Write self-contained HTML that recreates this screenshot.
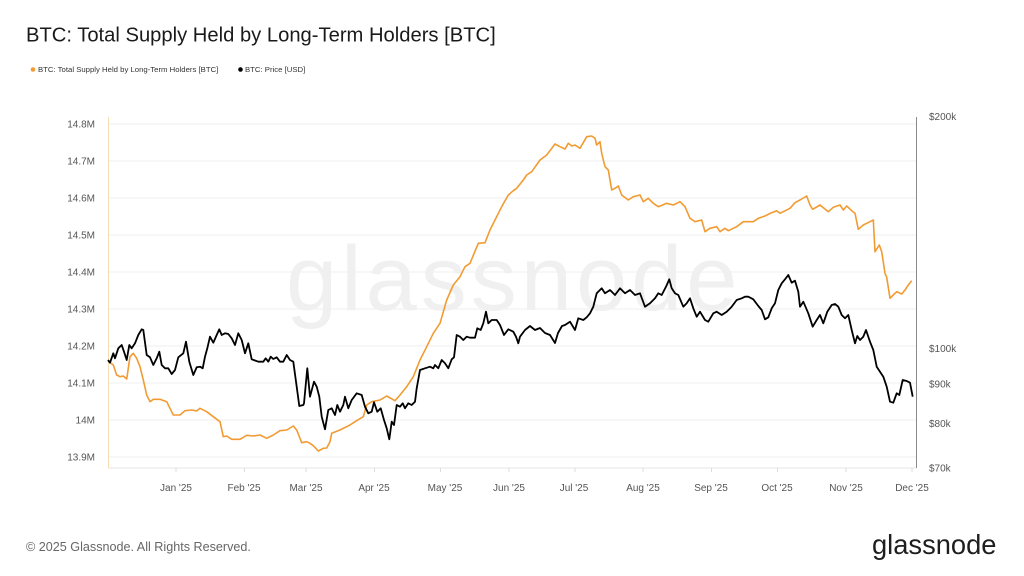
<!DOCTYPE html>
<html><head><meta charset="utf-8"><style>
html,body{margin:0;padding:0;background:#fff;}
body{width:1024px;height:576px;overflow:hidden;}
svg{display:block;font-family:"Liberation Sans",Arial,sans-serif;}
</style></head><body>
<svg width="1024" height="576" viewBox="0 0 1024 576" xmlns="http://www.w3.org/2000/svg">
<rect width="1024" height="576" fill="#fff"/>
<text x="26" y="41.5" font-size="20.2" fill="#1a1a1a">BTC: Total Supply Held by Long-Term Holders [BTC]</text>
<circle cx="33" cy="69.5" r="2.3" fill="#f29b32"/>
<text x="38" y="72.2" font-size="7.75" fill="#333">BTC: Total Supply Held by Long-Term Holders [BTC]</text>
<circle cx="240.5" cy="69.5" r="2.3" fill="#000"/>
<text x="245" y="72.2" font-size="7.75" fill="#333">BTC: Price [USD]</text>

<text x="286" y="310" font-size="92" fill="#f0f0f0" letter-spacing="4">glassnode</text>

<g stroke="#efefef" stroke-width="1">
<line x1="108" x2="916" y1="124" y2="124"/>
<line x1="108" x2="916" y1="161" y2="161"/>
<line x1="108" x2="916" y1="198" y2="198"/>
<line x1="108" x2="916" y1="235" y2="235"/>
<line x1="108" x2="916" y1="272" y2="272"/>
<line x1="108" x2="916" y1="309" y2="309"/>
<line x1="108" x2="916" y1="346" y2="346"/>
<line x1="108" x2="916" y1="383" y2="383"/>
<line x1="108" x2="916" y1="420" y2="420"/>
<line x1="108" x2="916" y1="457" y2="457"/>
</g>
<line x1="108" x2="916" y1="468" y2="468" stroke="#e6e6e6" stroke-width="1"/>
<line x1="108.5" x2="108.5" y1="117" y2="468" stroke="#f6dcb0" stroke-width="1"/>
<line x1="916.5" x2="916.5" y1="117" y2="468" stroke="#8a8a8a" stroke-width="1"/>
<g stroke="#ddd" stroke-width="1">
<line x1="176" x2="176" y1="468" y2="472"/><line x1="244.5" x2="244.5" y1="468" y2="472"/>
<line x1="306" x2="306" y1="468" y2="472"/><line x1="374.5" x2="374.5" y1="468" y2="472"/>
<line x1="440.5" x2="440.5" y1="468" y2="472"/><line x1="509" x2="509" y1="468" y2="472"/>
<line x1="575" x2="575" y1="468" y2="472"/><line x1="643" x2="643" y1="468" y2="472"/>
<line x1="711.5" x2="711.5" y1="468" y2="472"/><line x1="777.5" x2="777.5" y1="468" y2="472"/>
<line x1="846" x2="846" y1="468" y2="472"/><line x1="912" x2="912" y1="468" y2="472"/>
</g>

<g font-size="10" fill="#555" text-anchor="end">
<text x="95" y="127.5">14.8M</text>
<text x="95" y="164.5">14.7M</text>
<text x="95" y="201.5">14.6M</text>
<text x="95" y="238.5">14.5M</text>
<text x="95" y="275.5">14.4M</text>
<text x="95" y="312.5">14.3M</text>
<text x="95" y="349.5">14.2M</text>
<text x="95" y="386.5">14.1M</text>
<text x="95" y="423.5">14M</text>
<text x="95" y="460.5">13.9M</text>
</g>
<g font-size="10" fill="#555">
<text x="929" y="120">$200k</text>
<text x="929" y="352">$100k</text>
<text x="929" y="387.5">$90k</text>
<text x="929" y="427">$80k</text>
<text x="929" y="471.5">$70k</text>
</g>
<g font-size="10" fill="#555" text-anchor="middle">
<text x="176" y="491">Jan '25</text>
<text x="244" y="491">Feb '25</text>
<text x="306" y="491">Mar '25</text>
<text x="374" y="491">Apr '25</text>
<text x="445" y="491">May '25</text>
<text x="509" y="491">Jun '25</text>
<text x="574" y="491">Jul '25</text>
<text x="643" y="491">Aug '25</text>
<text x="711" y="491">Sep '25</text>
<text x="777" y="491">Oct '25</text>
<text x="846" y="491">Nov '25</text>
<text x="912" y="491">Dec '25</text>
</g>

<polyline fill="none" stroke="#f29b32" stroke-width="1.6" stroke-linejoin="round" points="108,361 113.3,365 116.7,375 120,376.7 123.3,376 126.7,379 130,356.7 133.3,353.3 136.7,358.3 140,366.7 143.3,380 146.7,395 150,401.7 153.3,399.3 160,399.3 166.7,401.7 170,408.3 173.3,415 180,415 185,410.7 191.7,410 196.7,411 200,408.3 206.7,411.7 213.3,416.7 220,421.7 223.3,436.7 226.7,436 231.7,439.3 240,439.3 246.7,435.3 253.3,436 260,435 266.7,438.3 273.3,435 280,430.7 286.7,430 293.3,426 296.7,430 301.7,442.7 306.7,441.7 310,443.3 313.3,445.7 318.3,451 323.3,448.3 326.7,448 330,441.7 331.7,433.3 340,430 350,425 355,421.7 363.3,416.7 366.7,405 371.7,401.7 380,400 386.7,396 395,400.7 400,395 406.7,386.7 413.3,376.7 420,360 426.7,346.7 433.3,333.3 440,323.3 446.7,300 453.3,285 460,276.7 465,266.7 470,263.3 478.3,243.3 485,242.7 490,230 495,220 501.7,206.7 508.3,195 513.3,190.7 516.7,188.3 523.3,180 526.7,175 531.7,171.7 540,160 546.7,155 555,144 560,146.7 565,149 568.3,143.3 571.7,146 575,145 580,148.3 586.7,136.7 591.7,136 595,138.3 596.7,145 600,141.7 601.7,153.3 605,166.7 608.3,170 611.7,190 615,188.3 618.3,186 621.7,195 628.3,200 633.3,196.7 640,195 643.3,201.7 648.3,198.3 653.3,203.3 658.3,206.7 666.7,203.3 673.3,205 680,201.7 685,206.7 690,218.3 695,221.7 701.7,220 705,231.7 710,228.3 716.7,226.7 720,231.7 725,228.3 728.3,230.7 736.7,226.7 743.3,221.7 753.3,221.7 758.3,218.3 765,216 771.7,212.7 776.7,210.7 780,213.3 790,208.3 795,202.7 800,200 806.7,196 810,205 812.7,209.3 820,205 828.3,211.7 833.3,207.3 840,205 843.3,210 846.7,206 851.7,210.7 855,213.3 858.3,229.3 863.3,225 870,221.7 873.3,220 875,251.7 879.3,245 881.7,251.7 885,273.3 886.7,277.3 890,298.3 893.3,295 896.7,291.7 901.7,294 905,290 908.3,285 911.7,280.7"/>

<polyline fill="none" stroke="#000" stroke-width="1.8" stroke-linejoin="round" points="108,360 110,362.7 113.3,353.3 115,358.3 118.3,348.3 121.7,345 124,351.7 126.7,360 129.3,345 131.7,348.3 135,343.3 138.3,335 141.7,329.3 143.3,330 146.7,355 150,357.3 153.3,365 156.7,358.3 159.3,351.7 161.7,365 165,368.3 168.3,368.3 171.7,374 175,370 178.3,357.3 183.3,353.3 186,341.7 189.3,361.7 193.3,375 196.7,367.3 200,366.7 202.7,368.3 205,356.7 207.3,348.3 210,336.7 213.3,342.7 216.7,335 219.3,329.3 221.7,335 225,333.3 228.3,334 231.7,338.3 235,345 238.3,333.3 241.7,340 245,353.3 248.3,343.3 251.7,359.3 258.3,361.7 263.3,361.7 265.7,358.3 268.3,361.7 270.7,356.7 273.3,359 276.7,357.3 280,361.7 283.3,361.7 286.7,355 290,360 293.3,361.7 296.7,386.7 299.3,406 303.3,405 304,403.3 307.3,368.3 310,396.7 314,381.7 316.7,386.7 319.3,396.7 321.7,416.7 325,429.3 328.3,410 331.7,408.3 335,415 337.3,405 340,411.7 343.3,405 345,396.7 348.3,408.3 351.7,400 356.7,393.3 361.7,395 365,406.7 368.3,413.3 371.7,411.7 374,402.3 377.3,411.7 380.7,408.3 384,420 386.7,428.3 389.3,439.3 391.7,421.7 394,425 396.7,405 400,406.7 402.7,403.3 405,408.3 408.3,403.3 411.7,405 415,401.7 416.7,388.3 420,370 425,368.3 430,366.7 433.3,368.3 435,365 438.3,368.3 441.7,360 445,363.3 448.3,368.3 451.7,359.3 454,357.3 456.7,335 460,336.7 463.3,340 466.7,336.7 470,337.7 475,337.7 477.3,328.3 480.7,330 483.3,323.3 486,311.7 488.3,323.3 491.7,320 496.7,320 500,325 504,335 508.3,329.3 513.3,331.7 516,336.7 518.3,343.3 520,336.7 525,330 530,326 535,330 540,328 545,333 550,335 555,343 558,333 562,326 565,325 570,321.7 575,330 578.3,318.3 583.3,320 586.7,317.3 590,313.3 593.3,306.7 596.7,293.3 601.7,288.3 605,293.3 610,290 615,295 620,288.3 625,293.3 630,290 635,295 640,293.3 645,306.7 650,303.3 655,298.3 658.3,293.3 661.7,295 666,286.7 669.3,279.3 671.7,288.3 675,293.3 678.3,295 683.3,306.7 686.7,303.3 690,298.3 693.3,308.3 696.7,316.7 700,311.7 705,320 708.3,321.7 713.3,313.3 716.7,311.7 721.7,315 726.7,311.7 731.7,306.7 736.7,300 741.7,298.3 745,296.7 748.3,296.7 753.3,299.3 758.3,306 761.7,310 765,319.3 768.3,317.3 771.7,308.3 775,303.3 778.3,290 781.7,283.3 785,279.3 788.3,275 791.7,282.7 795,280.7 798.3,291.7 800,306.7 803.3,301.7 808.3,313.3 812.7,326.7 816.7,320 820,315 823.3,323.3 827.3,311.7 831.7,305 835,304 838.3,306.7 841.7,315 845,318.3 848.3,315 851.7,330 855,343.3 857.3,336 860,340 863.3,336.7 866,330 870,341.7 873.3,350 876.7,366.7 880,371.7 883.3,376.7 886.7,386.7 890,401.7 893.3,402.7 896.7,393.3 899.3,395 902.7,380 906.7,381 910,382.7 912.7,396.7"/>

<text x="26" y="551" font-size="12.6" fill="#666">© 2025 Glassnode. All Rights Reserved.</text>
<text x="872" y="554" font-size="27.3" fill="#1e1e1e">glassnode</text>
</svg>
</body></html>
